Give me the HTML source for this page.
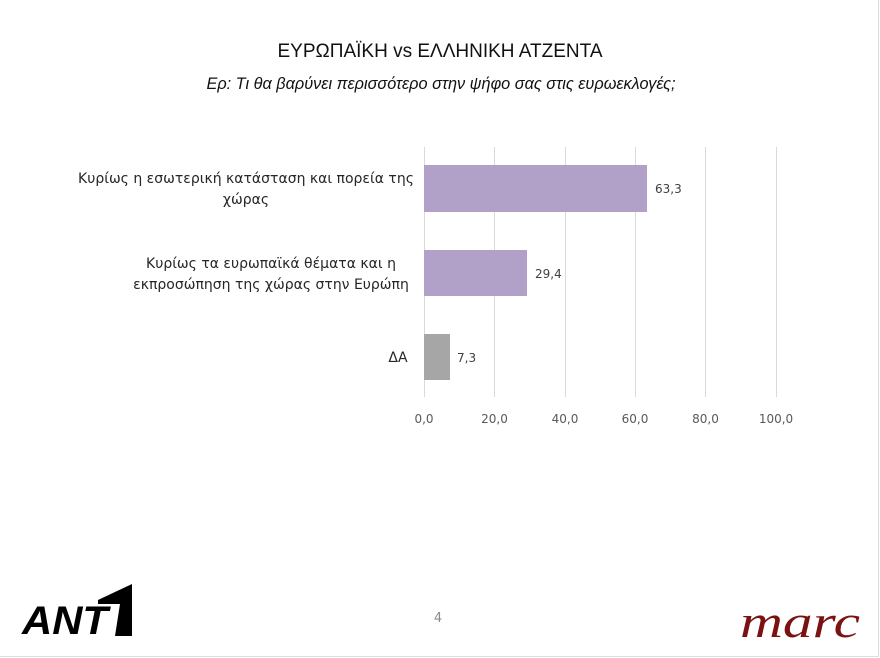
<!DOCTYPE html>
<html><head><meta charset="utf-8"><style>
body{margin:0;width:880px;height:658px;background:#fff;overflow:hidden;position:relative;font-family:"Liberation Sans","DejaVu Sans",sans-serif}
.t{position:absolute;white-space:nowrap}
</style></head><body>
<div style="position:absolute;left:0;top:0;width:878px;height:656px;border-right:1px solid #ddd;border-bottom:1px solid #ddd"></div>
<div class="t" style="left:0;width:880px;text-align:center;top:41px;font-size:19px;color:#111">ΕΥΡΩΠΑΪΚΗ vs ΕΛΛΗΝΙΚΗ ΑΤΖΕΝΤΑ</div>
<div class="t" style="left:0;width:880px;text-align:center;top:75px;font-size:16.3px;font-style:italic;color:#111;padding-left:2px;box-sizing:border-box">Ερ: Τι θα βαρύνει περισσότερο στην ψήφο σας στις ευρωεκλογές;</div>
<svg width="880" height="658" style="position:absolute;left:0;top:0" font-family="DejaVu Sans, Liberation Sans, sans-serif">
<g stroke="#d9d9d9" stroke-width="1">
<line x1="424.5" y1="147" x2="424.5" y2="397"/><line x1="494.5" y1="147" x2="494.5" y2="397"/><line x1="565.5" y1="147" x2="565.5" y2="397"/><line x1="635.5" y1="147" x2="635.5" y2="397"/><line x1="705.5" y1="147" x2="705.5" y2="397"/><line x1="776.5" y1="147" x2="776.5" y2="397"/>
</g>
<rect x="424" y="165" width="223" height="47" fill="#b1a0c7"/>
<rect x="424" y="250" width="103" height="46" fill="#b1a0c7"/>
<rect x="424" y="334" width="26" height="46" fill="#a6a6a6"/>
<g font-size="12" fill="#404040">
<text x="655" y="193">63,3</text><text x="535" y="278">29,4</text><text x="457" y="362">7,3</text>
</g>
<g font-size="12" fill="#595959" text-anchor="middle">
<text x="424" y="423">0,0</text><text x="494.5" y="423">20,0</text><text x="565" y="423">40,0</text><text x="635" y="423">60,0</text><text x="705.5" y="423">80,0</text><text x="776" y="423">100,0</text>
</g>
<g font-size="14" fill="#262626" text-anchor="middle">
<text x="246" y="183">Κυρίως η εσωτερική κατάσταση και πορεία της</text>
<text x="246" y="204">χώρας</text>
<text x="271" y="268">Κυρίως τα ευρωπαϊκά θέματα και η</text>
<text x="271" y="289">εκπροσώπηση της χώρας στην Ευρώπη</text>
<text x="398" y="362">ΔΑ</text>
</g>
<text x="438" y="622" font-size="13" fill="#8c8c8c" text-anchor="middle">4</text>
<g fill="#000">
<text x="22" y="634" font-size="40" font-style="italic" font-weight="bold" font-family="Liberation Sans, sans-serif" textLength="86" lengthAdjust="spacingAndGlyphs">ΑΝΤ</text>
<polygon points="98,600 132,584 132,636 115,636 120,604 98,604"/>
</g>
<text x="740" y="637" font-size="46" font-style="italic" font-family="Liberation Serif, serif" fill="#7a1212" textLength="120" lengthAdjust="spacingAndGlyphs">marc</text>
</svg>
</body></html>
